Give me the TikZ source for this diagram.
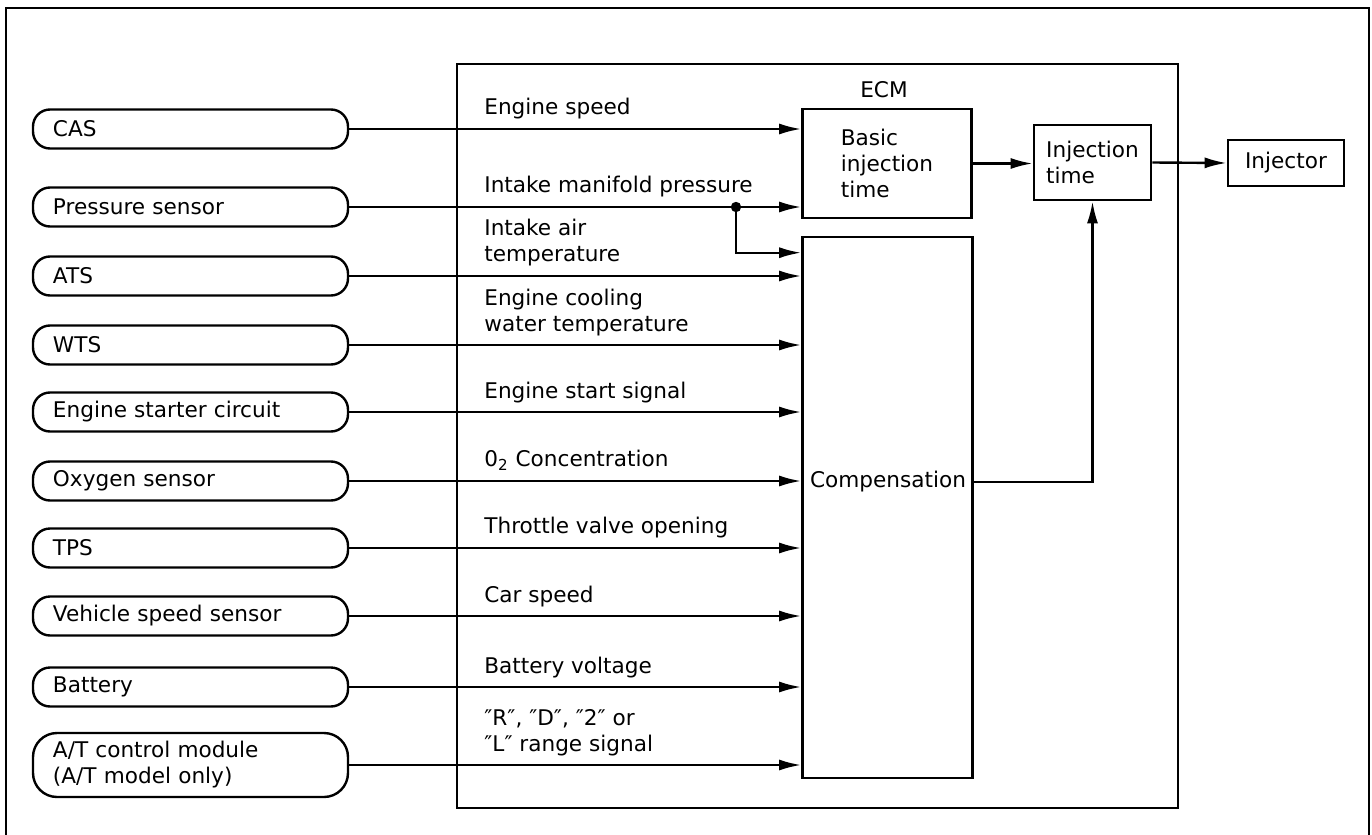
\documentclass[tikz,border=0pt]{standalone}
\usepackage{fontspec}
\setmainfont{DejaVu Sans}
\usetikzlibrary{arrows.meta,calc,positioning}

\begin{document}
\begin{tikzpicture}[x=0.5pt,y=-0.5pt,
  font=\fontsize{10.8}{13}\selectfont,
  sensor/.style={draw,line width=1.2pt,rounded corners=8.5pt,minimum width=157.5pt,minimum height=19.5pt,inner xsep=10pt,text width=137.5pt,align=left},
  block/.style={draw,line width=1.3pt,align=left,inner sep=0pt},
  sig/.style={anchor=south west,inner sep=0pt,text depth=0pt,align=left},
  feed/.style={line width=1.2pt,-{Latex[length=11pt,width=5.5pt]}}]
  \useasboundingbox (0,0) rectangle (1372,835);
  \draw[line width=1.3pt] (6,845) -- (6,8) -- (1369,8) -- (1369,845);
  % ECM and its blocks
  \node[block,minimum width=360.5pt,minimum height=372pt] (ecm) at (817.5,436) {};
  \node (ecmtxt) at (884,90) {ECM};
  \node[block,minimum width=84.5pt,minimum height=54.5pt] (basic) at (887,163.5) {Basic\\injection\\time};
  \node[block,minimum width=85pt,minimum height=270.5pt] (comp) at (887.5,507.5) {};
  \node (comptxt) at (888,482) {Compensation};
  \node[block,minimum width=58.5pt,minimum height=37.5pt] (inj) at (1092.5,162.5) {Injection\\time};
  \node[block,minimum width=58pt,minimum height=23pt] (injector) at (1286,163) {Injector};
  % sensors
  \foreach \n/\y/\t in {cas/129/CAS, pres/207/Pressure sensor, ats/276/ATS, wts/345/WTS,
      start/412/Engine starter circuit, oxy/481/Oxygen sensor, tps/548/TPS,
      vss/616/Vehicle speed sensor, batt/687/Battery}
    \node[sensor] (\n) at (190.5,\y) {\t};
  \node[sensor,minimum height=32pt,rounded corners=12pt] (atcm) at (190.5,765) {A/T control module\\(A/T model only)};
  % signals
  \draw[feed] (cas) -- (cas -| basic.west);
  \draw[feed] (pres) -- (pres -| basic.west);
  \coordinate (jct) at (736,207);
  \draw[feed] (jct) |- ([yshift=-8.5pt]comp.north west);
  \fill (jct) circle (2.6pt);
  \foreach \n in {ats,wts,start,oxy,tps,vss,batt,atcm}
    \draw[feed] (\n) -- (\n -| comp.west);
  \draw[feed] (basic.east) -- (basic.east -| inj.west);
  \draw[feed] (comptxt -| comp.east) -| (inj.south);
  \draw[feed] (inj.east) -- (injector.west);
  % signal names
  \node[sig] (lspd) at (484,115) {Engine speed};
  \node[sig] (lmap) at (484,193) {Intake manifold pressure};
  \node[sig] (liat) at (484,262) {Intake air\\temperature};
  \node[sig] (lwt) at (484,332) {Engine cooling\\water temperature};
  \node[sig] (lst) at (484,399) {Engine start signal};
  \node[sig] (lo2) at (484,467) {0\textsubscript{2} Concentration};
  \node[sig] (ltvo) at (484,534) {Throttle valve opening};
  \node[sig] (lcar) at (484,603) {Car speed};
  \node[sig] (lbv) at (484,674) {Battery voltage};
  \node[sig] (lrng) at (484,752) {″R″, ″D″, ″2″ or\\″L″ range signal};
\end{tikzpicture}
\end{document}
